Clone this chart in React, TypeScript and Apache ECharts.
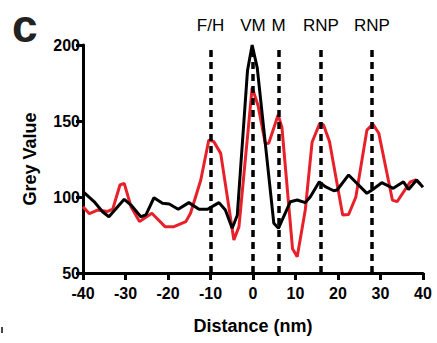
import React, { useEffect, useRef } from "react";
import * as echarts from "echarts";

const blackSeries: [number, number][] = [
  [-40, 103.5], [-37.4, 97], [-35.4, 90.3], [-33.9, 87], [-30.3, 98.5], [-28.7, 94.7],
  [-26.4, 87], [-25.2, 88.2], [-23.3, 99.5], [-21.3, 95.9], [-19.7, 95.4], [-17.6, 91.9],
  [-15.1, 96.3], [-12.7, 91.9], [-10.7, 91.9], [-8, 96.3], [-6.5, 91.4], [-4.9, 79.4],
  [-3.7, 88], [-1.3, 183], [-0.2, 200], [1, 185], [4.9, 82.7], [6, 79.4], [7.2, 87],
  [8.8, 96.9], [10.4, 98], [12.3, 96.3], [13.5, 100.2], [15.6, 110], [17, 106.8],
  [19, 104.1], [19.8, 104.6], [22.5, 114.5], [26.8, 102.4], [28, 104.6], [30.3, 109.4],
  [33, 105.7], [35.4, 110], [36.6, 105], [38.5, 111.2], [40, 106.4],
];

const redSeries: [number, number][] = [
  [-40, 93.6], [-38.5, 89], [-36.6, 91.4], [-34.2, 90.5], [-33, 92], [-31.3, 107.9],
  [-30.3, 109], [-28.7, 93.6], [-26.7, 83.8], [-25.2, 86.6], [-23.8, 89.3], [-20.7, 80.5],
  [-18.6, 80.5], [-15.8, 83.8], [-14.7, 89.3], [-12.3, 111], [-10.4, 137.5], [-9.2, 136.4],
  [-7.6, 128.7], [-4.5, 71.7], [-3.3, 80.5], [-0.2, 172], [1.2, 160], [2.9, 135],
  [3.7, 135.3], [5.9, 154], [6.8, 146], [9.3, 66], [10.4, 60.7], [12.3, 91.4], [13.9, 136],
  [15.7, 148.5], [16.6, 147.4], [18, 136.5], [21.1, 88.2], [22.5, 88.5], [24.2, 100],
  [26.8, 144], [28.2, 148], [29.6, 141.9], [32.8, 98], [33.9, 96.9], [37, 110],
  [38.3, 111.2], [39.4, 108.5],
];

const markerPositions = [-10, 0, 6, 16, 28];
const markerLabels = ["F/H", "VM", "M", "RNP", "RNP"];

const xTicks = { min: -40, max: 40, interval: 10 };
const yTicks = { min: 50, max: 200, interval: 50 };

const FONT = "'Liberation Sans', Arial, Helvetica, sans-serif";

export default function App() {
  const ref = useRef<HTMLDivElement>(null);
  useEffect(() => {
    if (!ref.current) return;
    const chart = echarts.init(ref.current, undefined, { renderer: "svg" });
    chart.setOption({
      animation: false,
      backgroundColor: "#ffffff",
      grid: { left: 83, right: 14, top: 45, bottom: 70, containLabel: false },
      xAxis: {
        type: "value",
        min: xTicks.min,
        max: xTicks.max,
        interval: xTicks.interval,
        name: "Distance (nm)",
        nameLocation: "middle",
        nameGap: 44,
        nameTextStyle: { fontFamily: FONT, fontWeight: "bold", fontSize: 18, color: "#000" },
        axisLine: { onZero: false, lineStyle: { color: "#000", width: 3 } },
        axisTick: { show: true, length: 7, lineStyle: { color: "#000", width: 3 } },
        axisLabel: { fontFamily: FONT, fontWeight: "bold", fontSize: 16, color: "#000", margin: 12 },
        splitLine: { show: false },
      },
      yAxis: {
        type: "value",
        min: yTicks.min,
        max: yTicks.max,
        interval: yTicks.interval,
        name: "Grey Value",
        nameLocation: "middle",
        nameGap: 44,
        nameTextStyle: { fontFamily: FONT, fontWeight: "bold", fontSize: 18, color: "#000" },
        axisLine: { show: true, onZero: false, lineStyle: { color: "#000", width: 3 } },
        axisTick: { show: true, length: 7, lineStyle: { color: "#000", width: 3 } },
        axisLabel: { fontFamily: FONT, fontWeight: "bold", fontSize: 16, color: "#000", margin: 3 },
        splitLine: { show: false },
      },
      series: [
        {
          type: "line",
          data: redSeries,
          showSymbol: false,
          symbol: "none",
          lineStyle: { color: "#e8202a", width: 3 },
          z: 2,
        },
        {
          type: "line",
          data: blackSeries,
          showSymbol: false,
          symbol: "none",
          lineStyle: { color: "#000", width: 3 },
          z: 3,
          markLine: {
            silent: true,
            symbol: ["none", "none"],
            z: 4,
            lineStyle: { color: "#000", width: 3.5, type: [7, 5] },
            label: {
              show: true,
              position: "end",
              distance: 11,
              formatter: (p: any) => p.name,
              fontFamily: FONT,
              fontSize: 17,
              color: "#000",
            },
            data: markerPositions.map((x, i) => ({ xAxis: x, name: markerLabels[i] })),
          },
        },
      ],
      graphic: [
        {
          type: "text",
          left: 12,
          top: 3,
          style: { text: "c", fontFamily: FONT, fontWeight: "bold", fontSize: 46, fill: "#222" },
        },
        {
          type: "rect",
          shape: { x: 1, y: 327, width: 2, height: 6 },
          style: { fill: "#444" },
        },
      ],
    });
    return () => chart.dispose();
  }, []);
  return <div ref={ref} style={{ width: 437, height: 343, position: "absolute", left: 0, top: 0 }} />;
}
